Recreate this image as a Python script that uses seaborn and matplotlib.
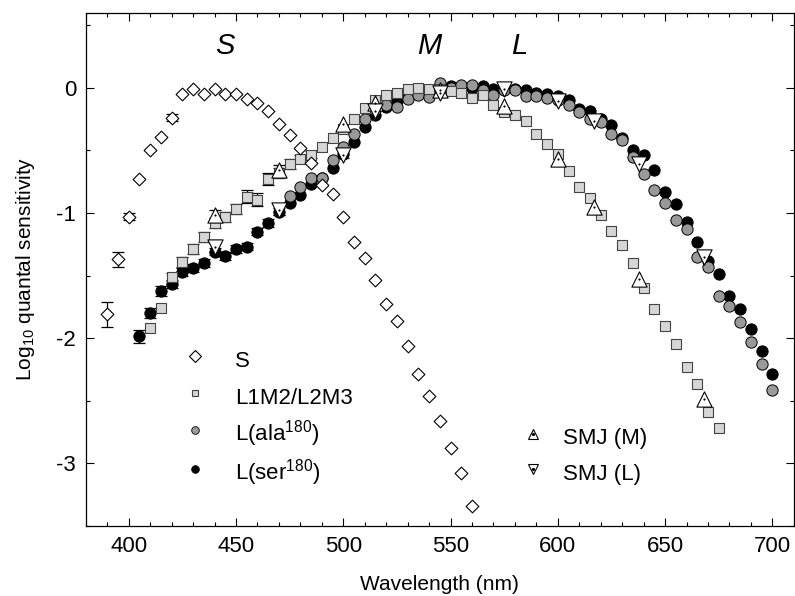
import numpy as np
import matplotlib
matplotlib.use('Agg')
import matplotlib.pyplot as plt
from matplotlib.lines import Line2D
from matplotlib.legend_handler import HandlerTuple
from matplotlib.ticker import MultipleLocator
import seaborn as sns

# ---- data (log10 quantal sensitivity) ----

# S cone (open diamonds)
s_wl = [390, 395, 400, 405, 410, 415, 420, 425, 430, 435, 440, 445, 450, 455, 460, 465,
        470, 475, 480, 485, 490, 495, 500, 505, 510, 515, 520, 525, 530, 535, 540, 545,
        550, 555, 560]
s_val = [-1.81, -1.37, -1.03, -0.73, -0.50, -0.39, -0.24, -0.05, -0.01, -0.05, -0.01, -0.05,
         -0.05, -0.09, -0.12, -0.19, -0.29, -0.38, -0.48, -0.60, -0.78, -0.85, -1.03, -1.23,
         -1.36, -1.535, -1.73, -1.865, -2.066, -2.29, -2.46, -2.665, -2.878, -3.08, -3.34]
s_err = [0.10, 0.06, 0.03, 0, 0, 0, 0.03, 0, 0, 0, 0, 0, 0, 0, 0, 0, 0, 0, 0, 0, 0, 0, 0, 0,
         0, 0, 0, 0, 0, 0, 0, 0, 0, 0, 0]

# L1M2/L2M3 (grey squares)
sq_wl = [410, 415, 420, 425, 430, 435, 440, 445, 450, 455, 460, 465, 470, 475, 480, 485,
         490, 495, 500, 505, 510, 515, 520, 525, 530, 535, 540, 545, 550, 555, 560, 565,
         570, 575, 580, 585, 590, 595, 600, 605, 610, 615, 620, 625, 630, 635, 640, 645,
         650, 655, 660, 665, 670, 675]
sq_val = [-1.92, -1.76, -1.51, -1.39, -1.29, -1.19, -1.08, -1.03, -0.97, -0.87, -0.895, -0.73,
          -0.68, -0.61, -0.57, -0.535, -0.47, -0.40, -0.33, -0.25, -0.163, -0.10, -0.06, -0.04,
          -0.014, 0.0, -0.014, -0.01, -0.025, -0.045, -0.083, -0.062, -0.135, -0.195, -0.22,
          -0.27, -0.37, -0.45, -0.53, -0.667, -0.79, -0.88, -1.015, -1.146, -1.26, -1.40,
          -1.60, -1.767, -1.90, -2.05, -2.23, -2.366, -2.59, -2.72]
sq_err = [0, 0, 0.03, 0.04, 0.04, 0.04, 0.04, 0.04, 0.04, 0.05, 0.05, 0.05, 0.04, 0.04, 0.03,
          0.03] + [0] * 38

# L(ala180) (grey circles)
ala_wl = [475, 480, 485, 490, 495, 500, 505, 510, 515, 520, 525, 530, 535, 540, 545, 550,
          555, 560, 565, 570, 575, 580, 585, 590, 595, 600, 605, 610, 615, 620, 625, 630,
          635, 640, 645, 650, 655, 660, 665, 670, 675, 680, 685, 690, 695, 700]
ala_val = [-0.865, -0.79, -0.72, -0.72, -0.575, -0.47, -0.37, -0.25, -0.18, -0.14, -0.155,
           -0.094, -0.06, -0.075, 0.04, 0.0, 0.018, 0.018, -0.02, -0.056, -0.02, -0.02, -0.067,
           -0.067, -0.083, -0.10, -0.14, -0.195, -0.25, -0.275, -0.368, -0.416, -0.55, -0.687,
           -0.82, -0.92, -1.06, -1.13, -1.35, -1.43, -1.66, -1.74, -1.87, -2.03, -2.21, -2.41]

# L(ser180) (black circles)
ser_wl = [405, 410, 415, 420, 425, 430, 435, 440, 445, 450, 455, 460, 465, 470, 475, 480,
          485, 490, 495, 500, 505, 510, 515, 520, 525, 530, 535, 540, 545, 550, 555, 560,
          565, 570, 575, 580, 585, 590, 595, 600, 605, 610, 615, 620, 625, 630, 635, 640,
          645, 650, 655, 660, 665, 670, 675, 680, 685, 690, 695, 700]
ser_val = [-1.985, -1.80, -1.626, -1.567, -1.47, -1.44, -1.40, -1.31, -1.345, -1.29, -1.27,
           -1.15, -1.08, -0.99, -0.92, -0.86, -0.77, -0.72, -0.64, -0.53, -0.43, -0.315, -0.22,
           -0.155, -0.11, -0.07, -0.048, -0.03, -0.01, 0.013, 0.01, 0.0, 0.013, -0.008, -0.01,
           -0.01, -0.02, -0.04, -0.048, -0.07, -0.10, -0.17, -0.187, -0.25, -0.30, -0.40,
           -0.496, -0.54, -0.655, -0.83, -0.93, -1.07, -1.23, -1.38, -1.49, -1.66, -1.77,
           -1.93, -2.10, -2.29]
ser_err = [0.05, 0.04, 0.04, 0.03, 0.03, 0.03, 0.03, 0.03, 0.03, 0.03, 0.03, 0.03, 0.03,
           0.03] + [0] * 46

# SMJ (M) and SMJ (L) (triangles)
smj_wl = [440, 470, 500, 515, 545, 575, 600, 617, 638, 668]
smj_m = [-1.02, -0.66, -0.29, -0.12, -0.02, -0.15, -0.57, -0.955, -1.527, -2.486]
smj_l = [-1.27, -0.98, -0.535, -0.19, -0.04, -0.014, -0.105, -0.27, -0.61, -1.354]
smj_m_err = [0.04, 0.04, 0, 0, 0, 0, 0, 0, 0, 0]
smj_l_err = [0.04, 0.04, 0.03, 0, 0, 0, 0, 0, 0, 0]

cone_labels = [('S', 445), ('M', 540), ('L', 582)]

# ---- style ----
sns.set_style('ticks')
plt.rcParams['font.family'] = ['Liberation Sans', 'DejaVu Sans']
plt.rcParams['mathtext.default'] = 'regular'
plt.rcParams['axes.unicode_minus'] = False
plt.rcParams['text.color'] = 'black'
plt.rcParams['axes.labelcolor'] = 'black'
plt.rcParams['xtick.color'] = 'black'
plt.rcParams['ytick.color'] = 'black'

fig, ax = plt.subplots(figsize=(7.95, 5.96), dpi=100)
fig.subplots_adjust(left=0.108, right=0.9985, top=0.979, bottom=0.1174)

sq_face = '#d6d6d6'
sq_edge = '#444444'
ala_face = '#999999'


def err_bars(wl, val, err):
    wl, val, err = np.asarray(wl), np.asarray(val), np.asarray(err)
    m = err > 0
    ax.errorbar(wl[m], val[m], yerr=err[m], fmt='none', ecolor='black',
                elinewidth=0.9, capsize=4, capthick=0.9, zorder=1)


err_bars(s_wl, s_val, s_err)
err_bars(sq_wl, sq_val, sq_err)
err_bars(ser_wl, ser_val, ser_err)
err_bars(smj_wl, smj_m, smj_m_err)
err_bars(smj_wl, smj_l, smj_l_err)

sns.scatterplot(x=ser_wl, y=ser_val, marker='o', s=66, color='black', edgecolor='black',
                linewidth=0.7, ax=ax, zorder=2)
sns.scatterplot(x=ala_wl, y=ala_val, marker='o', s=66, color=ala_face, edgecolor='black',
                linewidth=0.7, ax=ax, zorder=3)
sns.scatterplot(x=sq_wl, y=sq_val, marker='s', s=46, color=sq_face, edgecolor=sq_edge,
                linewidth=0.8, ax=ax, zorder=4)
sns.scatterplot(x=s_wl, y=s_val, marker='D', s=42, color='white', edgecolor='black',
                linewidth=0.8, ax=ax, zorder=5)
sns.scatterplot(x=smj_wl, y=smj_m, marker='^', s=120, color='white', edgecolor='black',
                linewidth=0.8, ax=ax, zorder=6)
sns.scatterplot(x=smj_wl, y=smj_l, marker='v', s=120, color='white', edgecolor='black',
                linewidth=0.8, ax=ax, zorder=6)
sns.scatterplot(x=smj_wl, y=smj_m, marker='o', s=2.5, color='black', linewidth=0, ax=ax, zorder=7)
sns.scatterplot(x=smj_wl, y=smj_l, marker='o', s=2.5, color='black', linewidth=0, ax=ax, zorder=7)

for lab, xpos in cone_labels:
    ax.text(xpos, 0.33, lab, fontsize=21, style='italic', ha='center', va='center')

# ---- axes ----
ax.set_xlim(380, 710)
ax.set_ylim(-3.5, 0.6)
ax.xaxis.set_major_locator(MultipleLocator(50))
ax.xaxis.set_minor_locator(MultipleLocator(10))
ax.yaxis.set_major_locator(MultipleLocator(1))
ax.yaxis.set_minor_locator(MultipleLocator(0.5))
ax.set_xticks([400, 450, 500, 550, 600, 650, 700])
ax.set_yticks([-3, -2, -1, 0])
ax.tick_params(which='both', direction='in', top=True, right=True, width=0.8, colors='black')
ax.tick_params(which='major', length=5.5, labelsize=16, pad=7)
ax.tick_params(which='minor', length=3)
for sp in ax.spines.values():
    sp.set_linewidth(0.9)
    sp.set_color('black')

ax.set_xlabel('Wavelength (nm)', fontsize=15, labelpad=13)
ax.set_ylabel(r'Log$_{10}$ quantal sensitivity', fontsize=15, labelpad=14)

# ---- legends ----
h_s = Line2D([], [], ls='none', marker='D', ms=5.8, mfc='white', mec='black', mew=0.8)
h_sq = Line2D([], [], ls='none', marker='s', ms=5, mfc=sq_face, mec=sq_edge, mew=0.8)
h_ala = Line2D([], [], ls='none', marker='o', ms=5.5, mfc=ala_face, mec='black', mew=0.6)
h_ser = Line2D([], [], ls='none', marker='o', ms=5.5, mfc='black', mec='black', mew=0.6)
leg1 = ax.legend([h_s, h_sq, h_ala, h_ser],
                 ['S', 'L1M2/L2M3', r'L(ala$^{180}$)', r'L(ser$^{180}$)'],
                 loc='center left', bbox_to_anchor=(0.138, 0.2125), frameon=False,
                 fontsize=16, handlelength=1.0, handleheight=1.6, labelspacing=0.36,
                 handletextpad=1.3, borderpad=0, borderaxespad=0)
ax.add_artist(leg1)

dot = Line2D([], [], ls='none', marker='o', ms=1.3, mfc='black', mec='black')
h_m = Line2D([], [], ls='none', marker='^', ms=7.5, mfc='white', mec='black', mew=0.8)
h_l = Line2D([], [], ls='none', marker='v', ms=7.5, mfc='white', mec='black', mew=0.8)
ax.legend([(h_m, dot), (h_l, dot)], ['SMJ (M)', 'SMJ (L)'],
          handler_map={tuple: HandlerTuple(ndivide=1)},
          loc='center left', bbox_to_anchor=(0.616, 0.139), frameon=False,
          fontsize=16, handlelength=1.0, handleheight=1.6, labelspacing=0.3,
          handletextpad=0.85, borderpad=0, borderaxespad=0)

fig.savefig('out.png', dpi=100)
